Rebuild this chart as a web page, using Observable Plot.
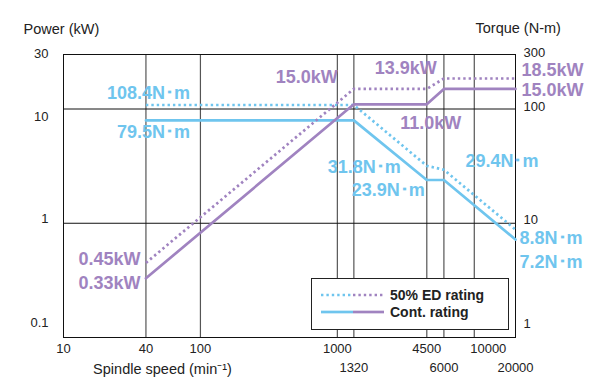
<!DOCTYPE html>
<html>
<head>
<meta charset="utf-8">
<script src="https://cdn.jsdelivr.net/npm/d3@7"></script>
<script src="https://cdn.jsdelivr.net/npm/@observablehq/plot@0.6"></script>
<style>
  html, body { margin: 0; padding: 0; background: #fff; }
  #wrap { position: relative; width: 590px; height: 383px; font-family: 'Liberation Sans', Arial, sans-serif; }
  #legend { position: absolute; left: 311px; top: 278px; width: 196px; height: 50px; border: 1px solid #222; background: #fff; }
  #legend .lab { position: absolute; left: 78px; font-weight: bold; font-size: 14px; line-height: 16px; color: #222; white-space: nowrap; }
</style>
</head>
<body>
<div id="wrap"></div>
<script>
// ---- data ----
const speed = [40, 1320, 4500, 6000, 20000];                 // min^-1
const powerCont = [0.33, 11.0, 11.0, 15.0, 15.0];           // kW, continuous
const powerED = [0.45, 15.0, 15.0, 18.5, 18.5];             // kW, 50% ED
const torqueCont = [79.5, 79.5, 23.9, 23.9, 7.2];           // N·m, continuous
const torqueED = [108.4, 108.4, 31.8, 29.4, 8.8];           // N·m, 50% ED
const gridSpeeds = [40, 100, 1000, 1320, 4500, 6000, 10000];
const xTicksRow1 = [10, 40, 100, 1000, 4500];
const xTicksShifted = [10000];
const xTicksRow2 = [1320, 6000, 20000];
const powerTicks = [30, 10, 1, 0.1];
const torqueTicks = [300, 100, 10, 1];
const seriesNames = ["50% ED rating", "Cont. rating"];

const blue = "#6fc5ee";
const purple = "#a083c0";
const ink = "#222";

const cont = speed.map((s, i) => ({speed: s, power: powerCont[i], torque: torqueCont[i]}));
const ed = speed.map((s, i) => ({speed: s, power: powerED[i], torque: torqueED[i]}));
const T = t => t / 10; // torque axis aligns: 1 N·m <-> 0.1 kW

const fmt = d => String(d);
const dot = "2.4,3";

function label(text, x, y, fill, textAnchor, dx, dy) {
  return Plot.text([{x, y, text}], {x: "x", y: "y", text: "text", fill, textAnchor, dx, dy,
    fontSize: 18, fontWeight: "bold"});
}

const leftDy = [-1, 8, -4, -15];
const rightDy = [-2, -2, -3, -14];

const chart = Plot.plot({
  width: 590, height: 383,
  marginLeft: 63, marginRight: 75, marginTop: 54, marginBottom: 46,
  x: {type: "log", domain: [10, 20000], axis: null},
  y: {type: "log", domain: [0.1, 30], axis: null},
  style: {fontFamily: "'Liberation Sans', Arial, sans-serif", fontSize: "13px", color: ink, background: "#fff"},
  marks: [
    Plot.ruleX(gridSpeeds, {stroke: "#555", strokeWidth: 1.2}),
    Plot.ruleY([1, 10], {stroke: "#111", strokeWidth: 1}),
    Plot.frame({stroke: "#111", strokeWidth: 1}),
    // torque (blue)
    Plot.line(ed, {x: "speed", y: d => T(d.torque), stroke: blue, strokeWidth: 2.7, strokeDasharray: dot, strokeLinecap: "butt"}),
    Plot.line(cont, {x: "speed", y: d => T(d.torque), stroke: blue, strokeWidth: 2.7}),
    // power (purple)
    Plot.line(ed, {x: "speed", y: "power", stroke: purple, strokeWidth: 2.7, strokeDasharray: dot, strokeLinecap: "butt"}),
    Plot.line(cont, {x: "speed", y: "power", stroke: purple, strokeWidth: 2.7}),
    // x tick labels
    Plot.text(xTicksRow1, {x: d => d, frameAnchor: "bottom", dy: 15.5, text: fmt, fontSize: 13, fill: ink}),
    Plot.text(xTicksShifted, {x: d => d, frameAnchor: "bottom", dy: 15.5, dx: 14, text: fmt, fontSize: 13, fill: ink}),
    Plot.text(xTicksRow2, {x: d => d, frameAnchor: "bottom", dy: 34.5, text: fmt, fontSize: 13, fill: ink}),
    // y tick labels
    ...powerTicks.map((t, i) => Plot.text([t], {y: d => d, frameAnchor: "left", textAnchor: "end", dx: -15, dy: leftDy[i], text: fmt, fontSize: 13, fill: ink})),
    ...torqueTicks.map((t, i) => Plot.text([t], {y: d => T(d), frameAnchor: "right", textAnchor: "start", dx: 8, dy: rightDy[i], text: fmt, fontSize: 13, fill: ink})),
    // axis titles
    Plot.text(["Power (kW)"], {frameAnchor: "top-left", textAnchor: "start", dx: -40, dy: -31, fontSize: 14.5, fill: ink}),
    Plot.text(["Torque (N-m)"], {frameAnchor: "top-right", textAnchor: "start", dx: -40, dy: -32, fontSize: 14.5, fill: ink}),
    Plot.text(["Spindle speed (min\u207B\u00B9)"], {frameAnchor: "bottom-left", textAnchor: "middle", dx: 99, dy: 36, fontSize: 14.5, fill: ink}),
    // annotations
    label("108.4N\uFF65m", speed[0], T(torqueED[0]), blue, "end", 44, -12),
    label("79.5N\uFF65m", speed[0], T(torqueCont[0]), blue, "end", 44, 12),
    label("15.0kW", speed[1], powerED[1], purple, "end", -16, -12),
    label("13.9kW", speed[2], powerED[2], purple, "middle", -21, -21),
    label("11.0kW", speed[2], powerCont[2], purple, "middle", 4, 18.5),
    label("18.5kW", speed[4], powerED[4], purple, "start", 6, -8),
    label("15.0kW", speed[4], powerCont[4], purple, "start", 6, 1.5),
    label("31.8N\uFF65m", speed[2], T(torqueED[2]), blue, "end", -26, 1),
    label("23.9N\uFF65m", speed[2], T(torqueCont[2]), blue, "end", -2, 10.5),
    label("29.4N\uFF65m", speed[3], T(torqueED[3]), blue, "start", 21.5, -9),
    label("8.8N\uFF65m", speed[4], T(torqueED[4]), blue, "start", 4, 9),
    label("7.2N\uFF65m", speed[4], T(torqueCont[4]), blue, "start", 4, 22.5),
    label("0.45kW", speed[0], powerED[0], purple, "end", -5.5, -3.5),
    label("0.33kW", speed[0], powerCont[0], purple, "end", -5.5, 5)
  ]
});

const wrap = document.getElementById("wrap");
wrap.appendChild(chart);

// legend (inside plot area)
const legend = document.createElement("div");
legend.id = "legend";
const rows = [
  {name: seriesNames[0], dash: dot, top: 8},
  {name: seriesNames[1], dash: null, top: 24.5}
];
rows.forEach(r => {
  const svgNS = "http://www.w3.org/2000/svg";
  const s = document.createElementNS(svgNS, "svg");
  s.setAttribute("width", "64"); s.setAttribute("height", "6");
  s.style.position = "absolute"; s.style.left = "9px"; s.style.top = (r.top + 5) + "px";
  [[0, 32, blue], [32, 63, purple]].forEach(([a, b, c]) => {
    const l = document.createElementNS(svgNS, "line");
    l.setAttribute("x1", a); l.setAttribute("x2", b); l.setAttribute("y1", 3); l.setAttribute("y2", 3);
    l.setAttribute("stroke", c); l.setAttribute("stroke-width", 2.7);
    if (r.dash) l.setAttribute("stroke-dasharray", r.dash);
    s.appendChild(l);
  });
  legend.appendChild(s);
  const t = document.createElement("div");
  t.className = "lab"; t.textContent = r.name; t.style.top = r.top + "px";
  legend.appendChild(t);
});
wrap.appendChild(legend);
</script>
</body>
</html>
